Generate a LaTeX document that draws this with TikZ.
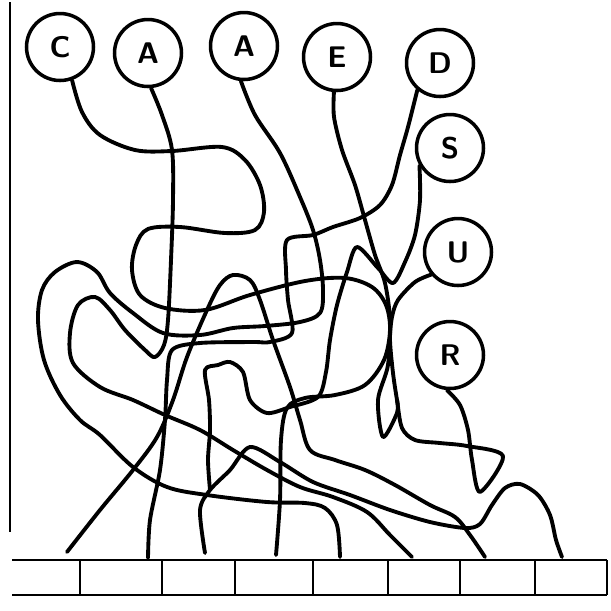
\documentclass[tikz,border=0pt]{standalone}
\usepackage{tikz}
\usetikzlibrary{positioning}

\begin{document}
\begin{tikzpicture}[
    x=0.02cm, y=-0.02cm,
    letter/.style={circle, draw, line width=2pt, minimum size=1.34cm, inner sep=0pt, font=\sffamily\bfseries\fontsize{17}{17}\selectfont},
    wire/.style={line width=2.2pt, line cap=round, line join=round},
    frame/.style={line width=1.6pt}
]
\useasboundingbox (0,0) rectangle (611,610);

% Frame and boxes
\draw[frame] (10,2) -- (10,532);
\draw[frame] (12,560) -- (607,560);
\draw[frame] (12,595) -- (607,595);
\foreach \bx in {80,162,235,313,388,460,535,607}
    \draw[frame] (\bx,560) -- (\bx,595);

% Letters
\node[letter] (c) at (60,47) {C};
\node[letter] (a1) at (148,53) {A};
\node[letter] (a2) at (244,46) {A};
\node[letter] (e) at (337,57) {E};
\node[letter] (d) at (440,63) {D};
\node[letter] (s) at (450,148) {S};
\node[letter] (u) at (458,252) {U};
\node[letter] (r) at (450,355) {R};

% Ends on the boxes
\coordinate (e1) at (67,552);
\coordinate (e2) at (148,558);
\coordinate (e3) at (205,553);
\coordinate (e4) at (276,555);
\coordinate (e5) at (340,557);
\coordinate (e6) at (412,557);
\coordinate (e7) at (485,557);
\coordinate (e8) at (562,557);

% Wires
\draw[wire] plot[smooth, tension=0.55] coordinates {(c.-70) (82,112) (100,135) (135,150) (172,151) (222,147) (245,160) (260,185) (264,212) (255,230) (225,233) (180,227) (148,229) (136,245) (132,270) (140,295) (165,308) (205,310) (250,295) (305,281) (345,278) (372,287) (386,305) (390,330) (384,360) (365,385) (335,395) (305,398) (287,408) (281,440) (280,500) (e4)};
\draw[wire] plot[smooth, tension=0.55] coordinates {(a1.-85) (162,115) (172,150) (173,200) (171,260) (168,320) (164,345) (155,357) (145,350) (125,330) (110,310) (95,297) (78,305) (70,333) (73,363) (100,387) (133,400) (165,415) (200,430) (233,450) (267,470) (300,487) (333,497) (367,512) (390,535) (e6)};
\draw[wire] plot[smooth, tension=0.55] coordinates {(a2.-95) (255,115) (280,153) (300,197) (313,230) (320,260) (323,290) (320,313) (300,322) (265,326) (233,328) (200,335) (163,333) (133,313) (110,293) (97,272) (77,262) (55,272) (42,290) (38,320) (44,360) (60,395) (80,420) (100,435) (133,467) (167,487) (207,495) (267,502) (305,503) (325,508) (337,525) (e5)};
\draw[wire] plot[smooth, tension=0.5] coordinates {(d.-130) (408,127) (400,155) (392,185) (380,205) (360,218) (333,227) (313,235) (287,240) (286,270) (288,300) (292,333) (270,342) (253,342) (200,343) (172,350) (167,380) (165,420) (160,470) (150,520) (e2)};
\draw[wire] plot[smooth, tension=0.55] coordinates {(e1) (100,510) (133,470) (157,437) (173,400) (187,357) (207,310) (220,285) (233,275) (250,280) (260,300) (273,340) (290,387) (300,420) (310,450) (335,460) (365,470) (395,485) (430,505) (455,517) (470,535) (e7)};
\draw[wire] plot[smooth, tension=0.5] coordinates {(e3) (200,510) (210,490) (230,470) (250,447) (280,462) (313,482) (350,495) (390,510) (430,522) (465,528) (480,524) (492,505) (505,488) (520,484) (538,495) (550,515) (556,540) (e8)};
\draw[wire] plot[smooth, tension=0.5] coordinates {(s.-150) (420,200) (415,235) (405,262) (393,283) (378,268) (357,247) (347,272) (337,305) (330,340) (326,372) (318,397) (290,407) (267,413) (250,400) (243,372) (230,362) (218,365) (205,370) (209,400) (210,430) (208,460) (210,490)};
\draw[wire] plot[smooth, tension=0.5] coordinates {(e.-95) (334,117) (342,150) (355,185) (365,220) (375,255) (385,283) (390,320) (388,365) (378,400) (383,437) (397,413) (397,400)};
\draw[wire] plot[smooth, tension=0.5] coordinates {(u.-140) (415,282) (398,300) (392,317) (390,340) (393,373) (397,400) (402,428) (415,440) (440,443) (467,446) (503,456) (480,492) (472,460) (468,430) (460,405) (r.-95)};
\end{tikzpicture}
\end{document}
